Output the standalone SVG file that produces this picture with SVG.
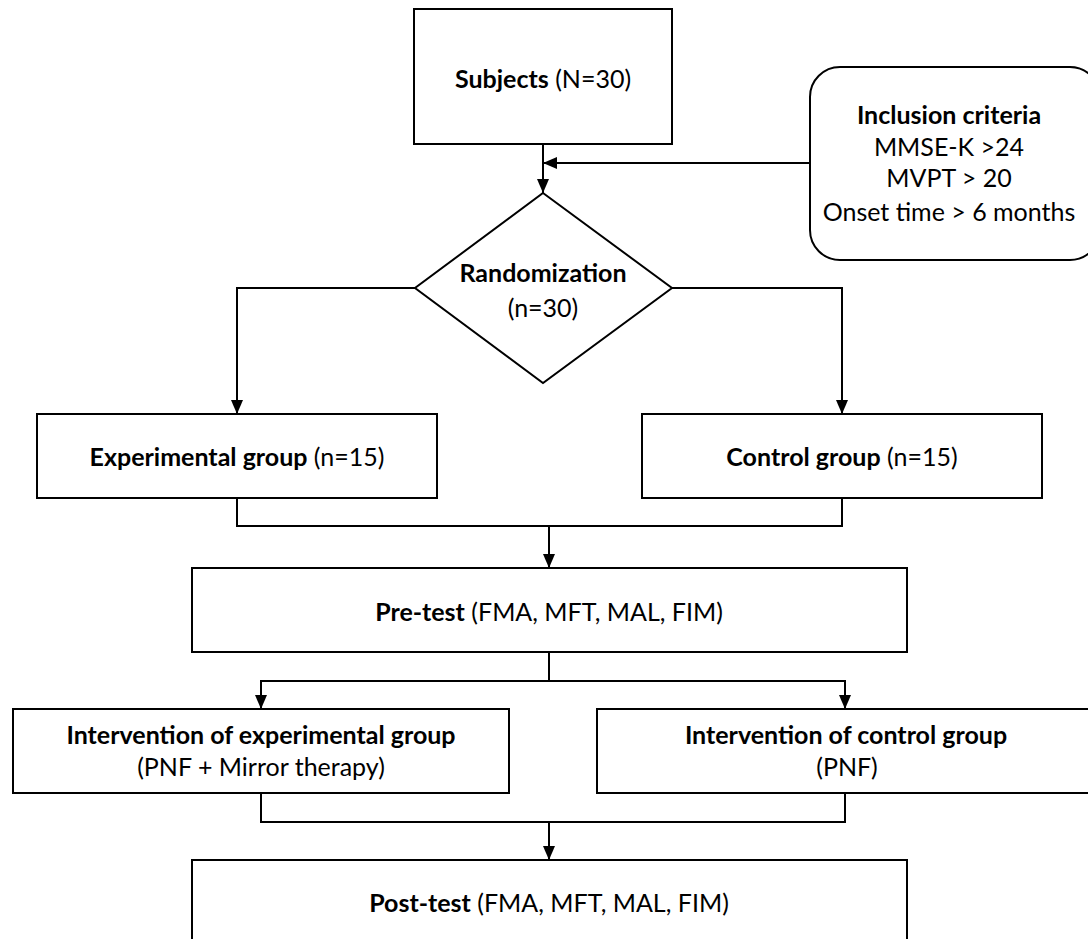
<svg xmlns="http://www.w3.org/2000/svg" width="1088" height="939" viewBox="0 0 1088 939">
<style>
.box{fill:#fff;stroke:#000;stroke-width:2}
.ln{fill:none;stroke:#000;stroke-width:2}
text{font-family:Lato,"Open Sans","Liberation Sans",sans-serif;font-size:25px;fill:#000;text-anchor:middle}
.b{font-weight:bold}
</style>
<defs>
<marker id="ah" viewBox="0 0 14 12" refX="14" refY="6" markerWidth="14" markerHeight="12" markerUnits="userSpaceOnUse" orient="auto">
<path d="M0,0 L14,6 L0,12 Z" fill="#000"/>
</marker>
</defs>
<rect width="1088" height="939" fill="#fff"/>
<g id="connectors">
<path class="ln" d="M543,144 V193" marker-end="url(#ah)"/>
<path class="ln" d="M810,163 H543" marker-end="url(#ah)"/>
<path class="ln" d="M415,288 H237 V414" marker-end="url(#ah)"/>
<path class="ln" d="M672,288 H842 V414" marker-end="url(#ah)"/>
<path class="ln" d="M237,498 V526 H842 V498"/>
<path class="ln" d="M549,526 V568" marker-end="url(#ah)"/>
<path class="ln" d="M549,652 V681"/>
<path class="ln" d="M549,681 H261 V709" marker-end="url(#ah)"/>
<path class="ln" d="M549,681 H845 V709" marker-end="url(#ah)"/>
<path class="ln" d="M261,793 V822 H845 V793"/>
<path class="ln" d="M549,822 V860" marker-end="url(#ah)"/>
</g>
<g id="subjects">
<rect class="box" x="414" y="9" width="258" height="135"/>
<text x="543" y="88"><tspan class="b">Subjects</tspan> (N=30)</text>
</g>
<g id="inclusion">
<rect class="box" x="810" y="67" width="290" height="193" rx="30" ry="30"/>
<text x="949" y="124" class="b">Inclusion criteria</text>
<text x="949" y="156">MMSE-K &gt;24</text>
<text x="949" y="187">MVPT &gt; 20</text>
<text x="949" y="221">Onset time &gt; 6 months</text>
</g>
<g id="randomization">
<polygon class="box" points="543,193 672,288 543,383 415,288"/>
<text x="543" y="282" class="b">Randomization</text>
<text x="543" y="317">(n=30)</text>
</g>
<g id="experimental">
<rect class="box" x="37" y="414" width="400" height="84"/>
<text x="237" y="466"><tspan class="b">Experimental group</tspan> (n=15)</text>
</g>
<g id="control">
<rect class="box" x="642" y="414" width="400" height="84"/>
<text x="842" y="466"><tspan class="b">Control group</tspan> (n=15)</text>
</g>
<g id="pretest">
<rect class="box" x="192" y="568" width="715" height="84"/>
<text x="549" y="621"><tspan class="b">Pre-test</tspan> (FMA, MFT, MAL, FIM)</text>
</g>
<g id="intervention-exp">
<rect class="box" x="13" y="709" width="496" height="84"/>
<text x="261" y="744" class="b">Intervention of experimental group</text>
<text x="261" y="776">(PNF + Mirror therapy)</text>
</g>
<g id="intervention-ctrl">
<rect class="box" x="597" y="709" width="496" height="84"/>
<text x="846" y="744" class="b">Intervention of control group</text>
<text x="847" y="776">(PNF)</text>
</g>
<g id="posttest">
<rect class="box" x="192" y="860" width="715" height="90"/>
<text x="549" y="912"><tspan class="b">Post-test</tspan> (FMA, MFT, MAL, FIM)</text>
</g>
</svg>
